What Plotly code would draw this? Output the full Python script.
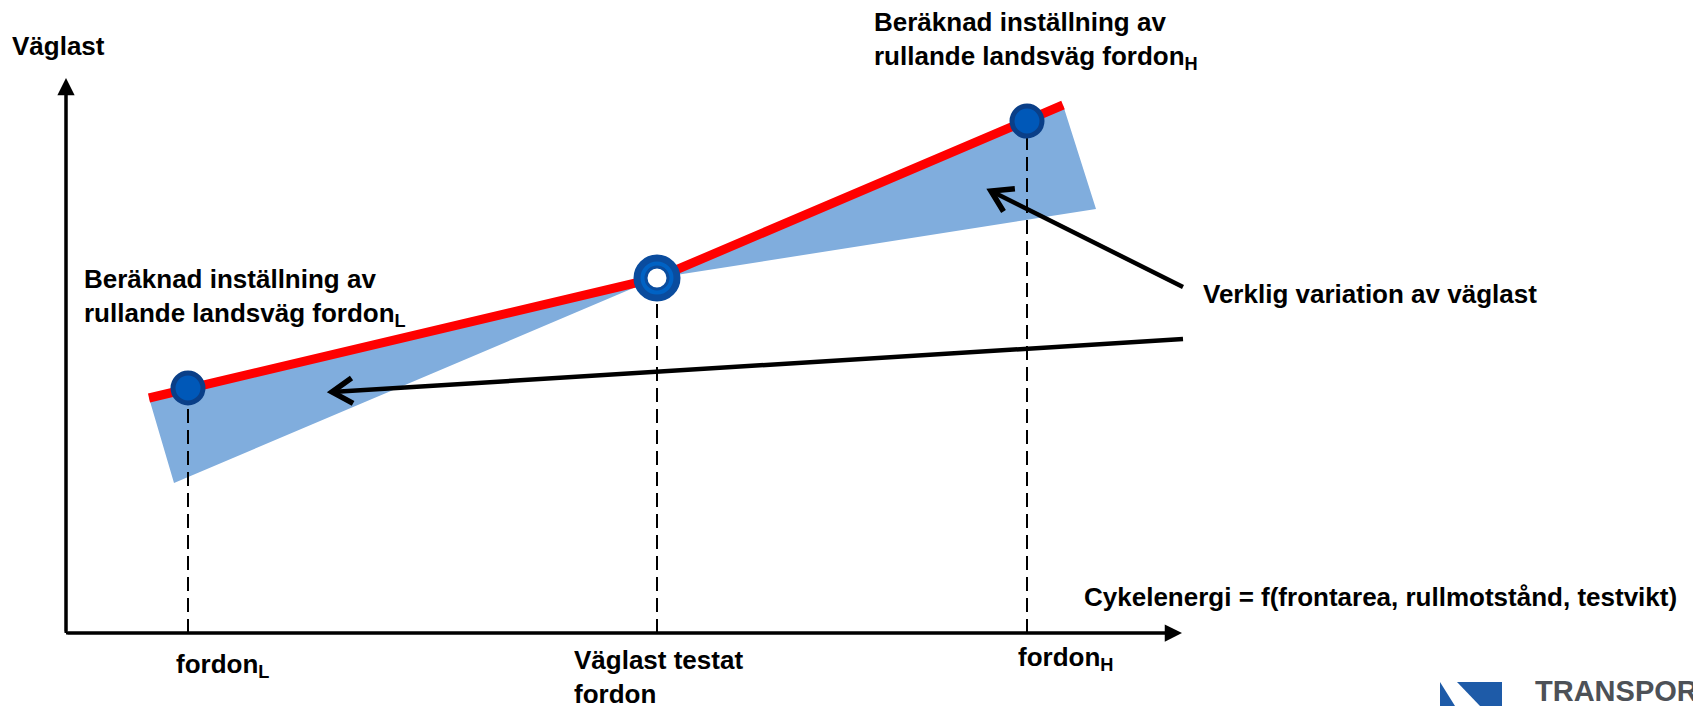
import math
import plotly.graph_objects as go

# ---- Data (diagram units; origin at the axis intersection) ----
x_axis_title = "Cykelenergi = f(frontarea, rullmotstånd, testvikt)"
y_axis_title = "Väglast"
vehicle_labels = ["fordon<sub>L</sub>", "Väglast testat<br>fordon", "fordon<sub>H</sub>"]
vehicle_x = [122, 591, 961]
road_load_y = [245, 355, 512]

setting_line_x = [83, 591, 997]
setting_line_y = [235, 355, 528]

variation_band_x = [83, 591, 997, 1030, 591, 108, 83]
variation_band_y = [235, 355, 528, 424, 355, 150, 235]

arrow_tail_x = [1117, 1117]
arrow_tail_y = [346, 294]
arrow_tip_x = [925, 266]
arrow_tip_y = [442, 241]

x_axis_end = 1116
y_axis_end = 555

label_L = "Beräknad inställning av<br>rullande landsväg fordon<sub>L</sub>"
label_H = "Beräknad inställning av<br>rullande landsväg fordon<sub>H</sub>"
label_var = "Verklig variation av väglast"

FONT = "Liberation Sans, Arial, Helvetica, sans-serif"
BLUE_BAND = "#80ADDD"
RED = "#FF0000"
MARK_FILL = "#0058B8"
MARK_EDGE = "#0A3F88"

fig = go.Figure()

# shaded variation band
fig.add_trace(go.Scatter(x=variation_band_x, y=variation_band_y, mode="lines",
                         fill="toself", fillcolor=BLUE_BAND, line=dict(width=0),
                         hoverinfo="skip", showlegend=False))

# dashed drop lines
for vx, vy in zip(vehicle_x, road_load_y):
    fig.add_trace(go.Scatter(x=[vx, vx], y=[0, vy], mode="lines",
                             line=dict(color="black", width=2, dash="14px,7px"),
                             hoverinfo="skip", showlegend=False))

# red settings line
fig.add_trace(go.Scatter(x=setting_line_x, y=setting_line_y, mode="lines",
                         line=dict(color=RED, width=9),
                         hoverinfo="skip", showlegend=False))

# filled markers for L and H
fig.add_trace(go.Scatter(x=[vehicle_x[0], vehicle_x[2]], y=[road_load_y[0], road_load_y[2]],
                         mode="markers",
                         marker=dict(size=30, color=MARK_FILL, line=dict(color=MARK_EDGE, width=5)),
                         hoverinfo="skip", showlegend=False))
# ring marker for tested vehicle
fig.add_trace(go.Scatter(x=[vehicle_x[1]], y=[road_load_y[1]], mode="markers",
                         marker=dict(size=33, color="white", line=dict(color="#0A4C9E", width=14)),
                         hoverinfo="skip", showlegend=False))
fig.add_trace(go.Scatter(x=[vehicle_x[1]], y=[road_load_y[1]], mode="markers",
                         marker=dict(size=29, color="rgba(0,0,0,0)", line=dict(color="#0062C4", width=4)),
                         hoverinfo="skip", showlegend=False))

# black pointer arrows with open chevron heads
for tx, ty, hx, hy in zip(arrow_tail_x, arrow_tail_y, arrow_tip_x, arrow_tip_y):
    fig.add_trace(go.Scatter(x=[tx, hx], y=[ty, hy], mode="lines",
                             line=dict(color="black", width=4.5),
                             hoverinfo="skip", showlegend=False))
    d = math.hypot(tx - hx, ty - hy)
    ux, uy = (tx - hx) / d, (ty - hy) / d
    arm = 24
    pts_x, pts_y = [], []
    for sgn in (1, -1):
        a = math.radians(32) * sgn
        rx = ux * math.cos(a) - uy * math.sin(a)
        ry = ux * math.sin(a) + uy * math.cos(a)
        pts_x.append(hx + arm * rx)
        pts_y.append(hy + arm * ry)
    fig.add_trace(go.Scatter(x=[pts_x[0], hx, pts_x[1]], y=[pts_y[0], hy, pts_y[1]],
                             mode="lines", line=dict(color="black", width=5.5),
                             hoverinfo="skip", showlegend=False))

# axes
fig.add_trace(go.Scatter(x=[0, 0], y=[0, y_axis_end - 8], mode="lines",
                         line=dict(color="black", width=3), hoverinfo="skip", showlegend=False))
fig.add_trace(go.Scatter(x=[0, x_axis_end - 8], y=[0, 0], mode="lines",
                         line=dict(color="black", width=3), hoverinfo="skip", showlegend=False))

annotations = [
    dict(x=0, y=y_axis_end, ax=0, ay=0, xref="x", yref="y", axref="x", ayref="y",
         showarrow=True, arrowhead=2, arrowwidth=3, arrowsize=1.15, arrowcolor="black", text=""),
    dict(x=x_axis_end, y=0, ax=0, ay=0, xref="x", yref="y", axref="x", ayref="y",
         showarrow=True, arrowhead=2, arrowwidth=3, arrowsize=1.15, arrowcolor="black", text=""),
]

def txt(text, x, y, xanchor="left", yanchor="middle", size=26, color="black", align="left"):
    return dict(text=text, x=x, y=y, xref="x", yref="y", xanchor=xanchor, yanchor=yanchor,
                showarrow=False, align=align,
                font=dict(family=FONT, size=size, color=color, weight="bold"))

annotations += [
    txt(y_axis_title, -56, 587),
    txt(x_axis_title, 1016, 36),
    txt(label_var, 1135, 339),
    txt(label_H, 806, 593),
    txt(label_L, 16, 336),
    txt(vehicle_labels[0], 108, -32),
    txt(vehicle_labels[1], 506, -44),
    txt(vehicle_labels[2], 950, -25),
    txt("TRANSPOR", 1467, -40, yanchor="top", size=29, color="#4D5157"),
]

shapes = [
    dict(type="path", xref="x", yref="y", path="M 1374 -49 L 1374 -73 L 1389 -73 Z",
         fillcolor="#1E5BA8", line=dict(width=0)),
    dict(type="path", xref="x", yref="y", path="M 1391 -49 L 1436 -49 L 1436 -73 L 1414 -73 Z",
         fillcolor="#1E5BA8", line=dict(width=0)),
]

# The page body adds an 8 px offset; the axis ranges compensate for it.
fig.update_layout(
    width=1701, height=706,
    margin=dict(l=0, r=0, t=0, b=0),
    paper_bgcolor="white", plot_bgcolor="white",
    xaxis=dict(range=[-58, 1643], visible=False, fixedrange=True),
    yaxis=dict(range=[-81, 625], visible=False, fixedrange=True),
    annotations=annotations,
    shapes=shapes,
    showlegend=False,
)

fig.write_html("out.html")
